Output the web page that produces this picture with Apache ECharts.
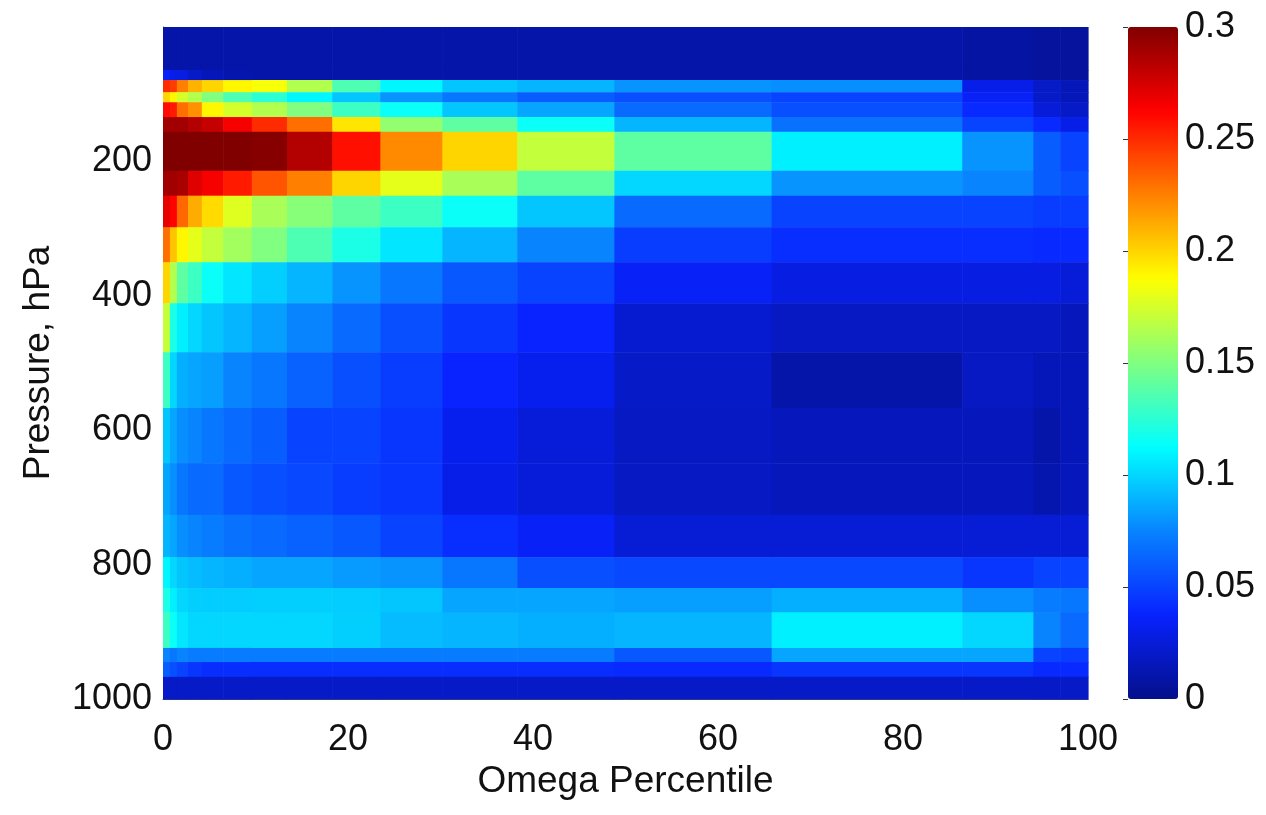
<!DOCTYPE html>
<html>
<head>
<meta charset="utf-8">
<title>Omega percentile vs pressure</title>
<script src="https://cdn.jsdelivr.net/npm/echarts@6/dist/echarts.min.js"></script>
<style>
  html, body { margin: 0; padding: 0; background: #fff; }
  #chart { width: 1266px; height: 815px; }
</style>
</head>
<body>
<div id="chart"></div>
<script>
// bin edges of the omega percentile (x) and of the pressure levels in hPa (y)
const pctEdges = [0, 0.75, 1.5, 2.7, 4.2, 6.5, 9.6, 13.4, 18.3, 23.5, 30.2, 38.3, 48.8, 65.8, 86.4, 94.1, 97, 100]
const pressureEdges = [0, 64, 79, 97, 112, 134, 156, 214, 251, 298, 350, 411, 484, 567, 649, 726, 789, 835, 871, 924, 945, 967, 1000]

// one row per pressure layer (top to bottom), one value per percentile bin
const fraction = [
  [0.010, 0.010, 0.010, 0.010, 0.010, 0.010, 0.010, 0.010, 0.010, 0.010, 0.010, 0.010, 0.010, 0.010, 0.008, 0.006, 0.006],
  [0.035, 0.030, 0.028, 0.020, 0.015, 0.012, 0.010, 0.010, 0.010, 0.010, 0.010, 0.010, 0.010, 0.010, 0.008, 0.006, 0.006],
  [0.250, 0.245, 0.225, 0.210, 0.200, 0.190, 0.185, 0.165, 0.135, 0.110, 0.095, 0.090, 0.080, 0.078, 0.030, 0.020, 0.015],
  [0.200, 0.190, 0.175, 0.165, 0.150, 0.135, 0.125, 0.110, 0.095, 0.080, 0.070, 0.060, 0.055, 0.050, 0.035, 0.020, 0.015],
  [0.260, 0.255, 0.230, 0.220, 0.190, 0.175, 0.165, 0.150, 0.130, 0.115, 0.095, 0.085, 0.065, 0.055, 0.040, 0.025, 0.020],
  [0.290, 0.290, 0.290, 0.285, 0.280, 0.265, 0.250, 0.230, 0.195, 0.155, 0.140, 0.115, 0.090, 0.068, 0.050, 0.040, 0.030],
  [0.300, 0.300, 0.300, 0.300, 0.300, 0.300, 0.298, 0.285, 0.258, 0.222, 0.200, 0.170, 0.140, 0.108, 0.080, 0.060, 0.050],
  [0.290, 0.290, 0.288, 0.272, 0.265, 0.255, 0.238, 0.225, 0.200, 0.180, 0.162, 0.140, 0.100, 0.080, 0.075, 0.060, 0.055],
  [0.270, 0.262, 0.232, 0.212, 0.198, 0.178, 0.162, 0.152, 0.140, 0.130, 0.115, 0.095, 0.065, 0.050, 0.050, 0.048, 0.048],
  [0.230, 0.205, 0.190, 0.180, 0.170, 0.160, 0.150, 0.135, 0.120, 0.105, 0.090, 0.075, 0.048, 0.042, 0.042, 0.040, 0.040],
  [0.200, 0.165, 0.140, 0.130, 0.115, 0.105, 0.098, 0.090, 0.080, 0.070, 0.058, 0.050, 0.035, 0.028, 0.028, 0.028, 0.025],
  [0.170, 0.120, 0.108, 0.100, 0.095, 0.090, 0.083, 0.075, 0.065, 0.055, 0.045, 0.038, 0.022, 0.018, 0.018, 0.018, 0.016],
  [0.130, 0.100, 0.088, 0.085, 0.083, 0.075, 0.070, 0.062, 0.055, 0.048, 0.038, 0.032, 0.020, 0.010, 0.018, 0.015, 0.015],
  [0.095, 0.085, 0.078, 0.075, 0.070, 0.065, 0.060, 0.050, 0.050, 0.045, 0.032, 0.025, 0.018, 0.016, 0.016, 0.010, 0.015],
  [0.085, 0.078, 0.070, 0.065, 0.065, 0.058, 0.055, 0.052, 0.048, 0.045, 0.030, 0.025, 0.018, 0.016, 0.016, 0.012, 0.016],
  [0.090, 0.085, 0.078, 0.075, 0.072, 0.068, 0.065, 0.062, 0.058, 0.050, 0.042, 0.035, 0.024, 0.024, 0.024, 0.024, 0.024],
  [0.110, 0.100, 0.095, 0.092, 0.090, 0.088, 0.085, 0.085, 0.082, 0.080, 0.070, 0.055, 0.052, 0.052, 0.045, 0.050, 0.050],
  [0.120, 0.108, 0.100, 0.098, 0.097, 0.097, 0.098, 0.098, 0.097, 0.095, 0.085, 0.085, 0.083, 0.088, 0.078, 0.072, 0.070],
  [0.130, 0.115, 0.105, 0.100, 0.100, 0.100, 0.100, 0.100, 0.098, 0.092, 0.090, 0.088, 0.090, 0.108, 0.100, 0.075, 0.065],
  [0.075, 0.070, 0.075, 0.072, 0.072, 0.072, 0.072, 0.072, 0.072, 0.072, 0.072, 0.072, 0.058, 0.085, 0.085, 0.050, 0.048],
  [0.060, 0.055, 0.050, 0.045, 0.042, 0.042, 0.042, 0.042, 0.042, 0.042, 0.042, 0.042, 0.040, 0.045, 0.045, 0.040, 0.040],
  [0.020, 0.020, 0.020, 0.020, 0.020, 0.020, 0.020, 0.020, 0.020, 0.020, 0.020, 0.020, 0.020, 0.020, 0.020, 0.020, 0.020]
]

const xTicks = [0, 20, 40, 60, 80, 100]
const yTicks = [200, 400, 600, 800, 1000]
const colorTicks = [0, 0.05, 0.1, 0.15, 0.2, 0.25, 0.3]

// jet, with the slight green tint the scanned figure shows in the blues
const jet = ['#04108a', '#0822ff', '#0884ff', '#00ffff', '#80ff80', '#ffff00', '#ff8000', '#ff0000', '#800000']
const FONT = "'Liberation Sans', Arial, Helvetica, sans-serif"

// [x0, x1, y0, y1, value]
const cells = []
fraction.forEach((row, i) => {
  row.forEach((v, j) => {
    cells.push([pctEdges[j], pctEdges[j + 1], pressureEdges[i], pressureEdges[i + 1], v])
  })
})

const chart = echarts.init(document.getElementById('chart'), null, { renderer: 'canvas' })

const labelStyle = { color: '#111', fontSize: 36, fontFamily: FONT }

chart.setOption({
  backgroundColor: '#fff',
  animation: false,
  grid: [
    { left: 163, top: 27, width: 925, height: 672 },
    { left: 1128, top: 27, width: 50, height: 672 }
  ],
  xAxis: [
    {
      gridIndex: 0,
      type: 'value',
      min: xTicks[0],
      max: xTicks[xTicks.length - 1],
      interval: 20,
      name: 'Omega Percentile',
      nameLocation: 'middle',
      nameGap: 56,
      nameTextStyle: { color: '#111', fontSize: 37, fontFamily: FONT },
      axisLine: { show: true, onZero: false, lineStyle: { color: '#555', width: 1 } },
      axisTick: { show: false },
      splitLine: { show: false },
      axisLabel: { ...labelStyle, margin: 23 }
    },
    {
      gridIndex: 1,
      type: 'value',
      min: 0,
      max: 1,
      show: false
    }
  ],
  yAxis: [
    {
      gridIndex: 0,
      type: 'value',
      inverse: true,
      min: 0,
      max: yTicks[yTicks.length - 1],
      interval: 200,
      name: 'Pressure, hPa',
      nameLocation: 'middle',
      nameRotate: 90,
      nameGap: 106,
      nameTextStyle: { color: '#111', fontSize: 37, fontFamily: FONT },
      axisLine: { show: true, onZero: false, lineStyle: { color: '#555', width: 1 } },
      axisTick: { show: false },
      splitLine: { show: false },
      axisLabel: {
        ...labelStyle,
        margin: 11,
        formatter: (v) => (yTicks.includes(v) ? String(v) : '')
      }
    },
    {
      gridIndex: 1,
      type: 'value',
      position: 'right',
      min: colorTicks[0],
      max: colorTicks[colorTicks.length - 1],
      interval: 0.05,
      axisLine: { show: false },
      axisTick: { show: true, inside: true, length: 5, lineStyle: { color: '#333' } },
      splitLine: { show: false },
      axisLabel: { ...labelStyle, margin: 7 }
    }
  ],
  visualMap: {
    type: 'continuous',
    seriesIndex: 0,
    dimension: 4,
    min: 0,
    max: 0.3,
    calculable: false,
    hoverLink: false,
    realtime: false,
    orient: 'vertical',
    left: 1128,
    top: 27,
    padding: 0,
    itemWidth: 50,
    itemHeight: 672,
    text: null,
    inRange: { color: jet }
  },
  series: [
    {
      type: 'custom',
      xAxisIndex: 0,
      yAxisIndex: 0,
      data: cells,
      encode: { x: [0, 1], y: [2, 3] },
      renderItem(params, api) {
        const a = api.coord([api.value(0), api.value(2)])
        const b = api.coord([api.value(1), api.value(3)])
        return {
          type: 'rect',
          shape: {
            x: Math.min(a[0], b[0]),
            y: Math.min(a[1], b[1]),
            width: Math.abs(b[0] - a[0]) + 0.6,
            height: Math.abs(b[1] - a[1]) + 0.6
          },
          style: { fill: api.visual('color') }
        }
      }
    }
  ]
})
</script>
</body>
</html>
